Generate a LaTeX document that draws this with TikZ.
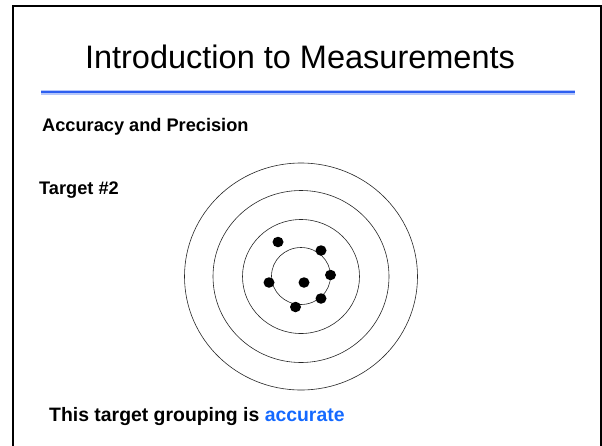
\documentclass[tikz,border=0pt]{standalone}
\usepackage{fontspec}
\setmainfont{Liberation Sans}
\usepackage{xcolor}
\usepackage{tikz}
\usetikzlibrary{positioning, shapes}
\definecolor{ruleblue}{RGB}{45,95,240}
\definecolor{hiblue}{RGB}{20,105,255}
\tikzstyle{ring} = [draw=black!85, line width=0.6pt]
\tikzstyle{shot} = [ellipse, fill=black, inner sep=0pt, minimum width=11pt, minimum height=10.5pt]

\begin{document}
\begin{tikzpicture}[
    x=1pt, y=-1pt,
    title/.style={anchor=base, inner sep=0pt, font=\fontsize{32.5}{36}\selectfont},
    label/.style={anchor=base west, inner sep=0pt, font=\fontsize{18.2}{22}\selectfont\bfseries},
    caption/.style={anchor=base west, inner sep=0pt, font=\fontsize{19.4}{23}\selectfont\bfseries}
]
    \useasboundingbox (0,0) rectangle (602,445);

    % Slide frame (runs off the bottom edge)
    \draw[line width=2pt] (13,460) -- (13,6) -- (601,6) -- (601,460);

    % Heading and rule below it
    \node[title] (heading) at (300,68) {Introduction to Measurements};
    \draw[line width=5pt, ruleblue!35] (41,92) -- (575,92);
    \draw[line width=2.4pt, ruleblue] (41,92) -- (575,92);

    \node[label] (topic) at (42,131) {Accuracy and Precision};
    \node[label] (target) at (39,194) {Target \#2};

    % Target rings
    \draw[ring] (301,276.5) ellipse [x radius=116.5, y radius=113.5];
    \draw[ring] (301,276.5) ellipse [x radius=88, y radius=86];
    \draw[ring] (301,276.5) ellipse [x radius=58.5, y radius=57];
    \draw[ring] (301,276) ellipse [x radius=29.5, y radius=28.5];

    % Shots
    \node[shot] (shot1) at (278,242) {};
    \node[shot] (shot2) at (321,250.5) {};
    \node[shot] (shot3) at (330.5,275) {};
    \node[shot] (shot4) at (304,282.5) {};
    \node[shot] (shot5) at (269,282.5) {};
    \node[shot] (shot6) at (321,298.5) {};
    \node[shot] (shot7) at (295.5,307) {};

    \node[caption] (verdict) at (49,421) {This target grouping is \textcolor{hiblue}{accurate}};

\end{tikzpicture}
\end{document}
